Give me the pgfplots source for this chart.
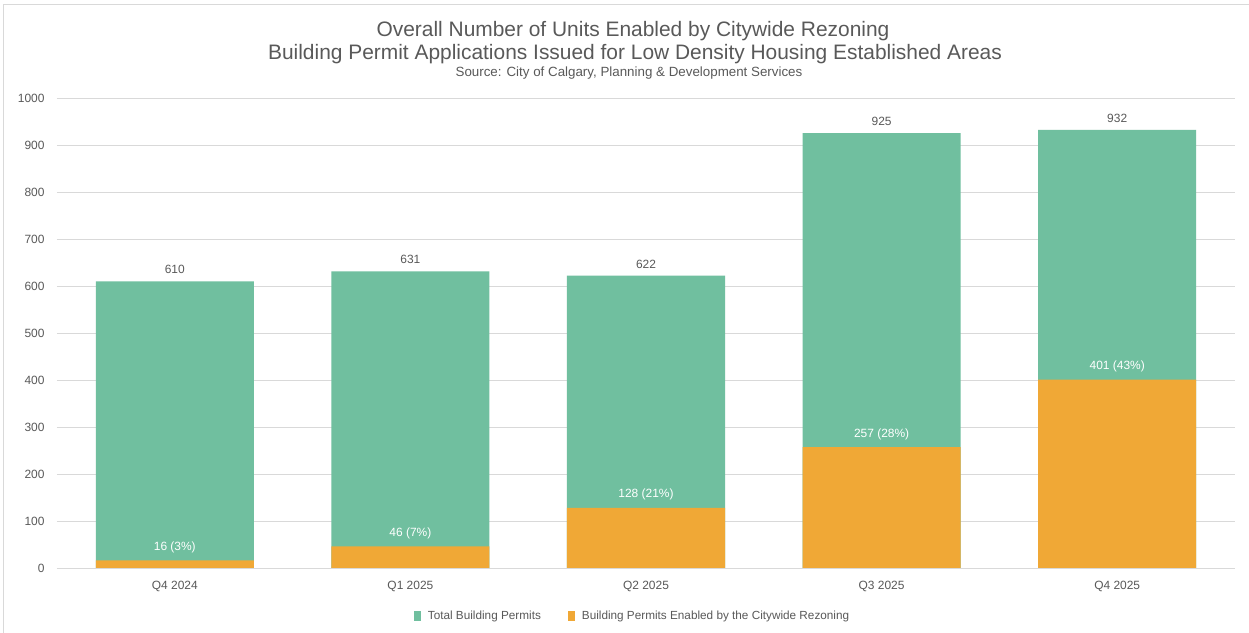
\documentclass[border=0pt]{standalone}
\usepackage{pgfplots}
\pgfplotsset{compat=1.18}
\usepackage{fontspec}
\setmainfont{Liberation Sans}
\definecolor{totgreen}{HTML}{70BF9F}
\definecolor{rezorange}{HTML}{F0A836}
\definecolor{txtgray}{HTML}{595959}
\definecolor{gridgray}{HTML}{D9D9D9}

\begin{document}
\begin{tikzpicture}
\useasboundingbox (0,0) rectangle (1249bp,633bp);
\fill[white] (0,0) rectangle (1249bp,633bp);
\draw[gridgray, line width=1bp] (3bp,-5bp) -- (3bp,628bp) -- (1260bp,628bp);

\node[font=\fontsize{21}{25}\selectfont, text=txtgray] at (633bp,602bp) {Overall Number of Units Enabled by Citywide Rezoning};
\node[font=\fontsize{21}{25}\selectfont, text=txtgray] at (635bp,579bp) {Building Permit Applications Issued for Low Density Housing Established Areas};
\node[font=\fontsize{13.4}{15}\selectfont, text=txtgray] at (629bp,560bp) {Source: City of Calgary, Planning \& Development Services};

\begin{axis}[
    at={(57bp,65bp)}, anchor=south west,
    scale only axis, width=1178bp, height=470bp,
    xmin=-0.5, xmax=4.5, ymin=0, ymax=1000,
    ybar, bar width=158bp, bar shift=0pt,
    xtick={0,...,4},
    xticklabels={Q4 2024, Q1 2025, Q2 2025, Q3 2025, Q4 2025},
    ytick={0,100,...,1000},
    yticklabel style={/pgf/number format/1000 sep={}},
    ymajorgrids, grid style={gridgray, line width=0.9bp},
    axis line style={draw=none}, major tick style={draw=none},
    ticklabel style={font=\fontsize{12}{14}\selectfont, text=txtgray},
    /pgf/number format/assume math mode=true,
    yticklabel style={xshift=-9bp},
    xticklabel style={yshift=-5bp},
    legend style={at={(0.489,-0.102)}, anchor=center, legend columns=2, draw=none,
        font=\fontsize{11.8}{13}\selectfont, text=txtgray,
        /tikz/every odd column/.append style={column sep=0bp},
        /tikz/every even column/.append style={column sep=24bp},
        nodes={inner sep=3bp}},
    legend image code/.code={\fill[#1, draw=none] (0bp,-5bp) rectangle (7bp,5bp);},
    legend cell align=left,
]
\addplot[fill=totgreen, draw=none, nodes near coords,
    every node near coord/.append style={font=\fontsize{12}{14}\selectfont, text=txtgray, yshift=4bp}]
    coordinates {(0,610) (1,631) (2,622) (3,925) (4,932)};
\addlegendentry{\hspace{4bp}Total Building Permits}
\addplot[fill=rezorange, draw=none, point meta=explicit symbolic, nodes near coords,
    every node near coord/.append style={font=\fontsize{12}{14}\selectfont, text=white, yshift=4bp}]
    coordinates {(0,16) [16 (3\%)] (1,46) [46 (7\%)] (2,128) [128 (21\%)] (3,257) [257 (28\%)] (4,401) [401 (43\%)]};
\addlegendentry{\hspace{4bp}Building Permits Enabled by the Citywide Rezoning}
\end{axis}
\end{tikzpicture}
\end{document}
